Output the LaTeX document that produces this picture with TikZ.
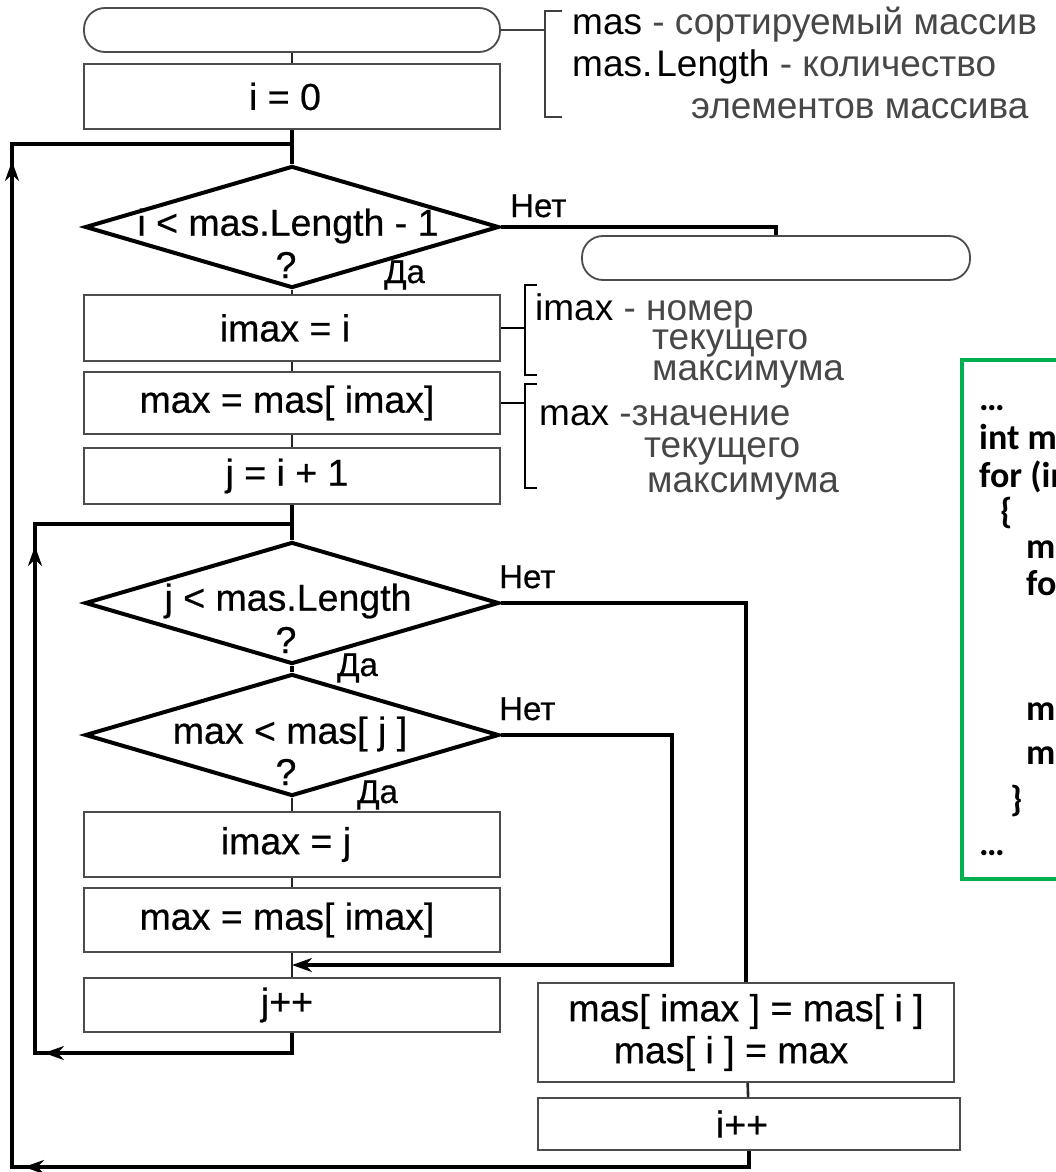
\documentclass[tikz,border=0pt]{standalone}
\usepackage{fontspec}
\setmainfont{Liberation Sans}
\newfontfamily\heavy{Liberation Sans}[FakeBold=0.5]
\newfontfamily\codefont{Carlito}
\usetikzlibrary{shapes.geometric,arrows.meta,decorations.markings,calc}
\definecolor{codegreen}{RGB}{0,176,80}
\begin{document}
\begin{tikzpicture}[x=1pt,y=-1pt,
  box/.style={draw=black!70, line width=2pt, rectangle, minimum width=416pt, inner sep=0pt, align=center, font=\heavy\fontsize{37.5}{42}\selectfont},
  term/.style={draw=black!70, line width=1.8pt, rectangle, rounded corners=21pt, minimum height=44pt, inner sep=0pt},
  dec/.style={draw=black, line width=4pt, diamond, minimum width=414pt, minimum height=122pt, inner sep=0pt},
  dtxt/.style={font=\heavy\fontsize{37.5}{42}\selectfont, inner sep=0pt},
  flow/.style={draw=black, line width=4pt},
  thinline/.style={draw=black!85, line width=2.6pt},
  brk/.style={draw=black, line width=2.8pt},
  brkthin/.style={draw=black!75, line width=2pt},
  ann/.style={font=\fontsize{37}{42}\selectfont, anchor=base west, inner sep=0pt, text=black!72},
  yn/.style={font=\heavy\fontsize{33}{36}\selectfont, anchor=base west, inner sep=0pt},
  code/.style={font=\codefont\bfseries\fontsize{36}{40}\selectfont, anchor=base west, inner sep=0pt},
  tipmark/.style 2 args={postaction={decorate}, decoration={markings,
      mark=at position #1 with {\arrow{Stealth[length=20pt,width=14pt]}},
      mark=at position #2 with {\arrow{Stealth[length=20pt,width=14pt]}}}},
  endtip/.style={-{Stealth[length=20pt,width=14pt]}}
]
\useasboundingbox (0,0) rectangle (1056,1172);
\fill[white] (0,0) rectangle (1056,1172);
\clip (0,0) rectangle (1056,1172);

% ---------- left column ----------
\node[term, minimum width=416pt] (t1) at (292,30) {};
\node[box, minimum height=65pt] (b0) at (292,96.5) {i = 0\hspace*{14pt}};
\node[dec] (d1) at (292,227) {};
\node[dtxt] (d1t) at (288,226) {i < mas.Length - 1};
\node[dtxt] (d1q) at (286,265) {?};
\node[box, minimum height=66pt] (b1) at (292,328) {imax = i\hspace*{14pt}};
\node[box, minimum height=62pt] (b2) at (292,403) {max = mas[ imax]\hspace*{10pt}};
\node[box, minimum height=56pt] (b3) at (292,476) {j = i + 1\hspace*{10pt}};
\node[dec] (d2) at (292,603) {};
\node[dtxt] (d2t) at (288,601) {j < mas.Length};
\node[dtxt] (d2q) at (286,640) {?};
\node[dec] (d3) at (292,735) {};
\node[dtxt] (d3t) at (290,734) {max < mas[ j ]};
\node[dtxt] (d3q) at (286,772) {?};
\node[box, minimum height=65pt] (b4) at (292,844.5) {imax = j\hspace*{12pt}};
\node[box, minimum height=64pt] (b5) at (292,920) {max = mas[ imax]\hspace*{10pt}};
\node[box, minimum height=54pt] (b6) at (292,1005) {j++\hspace*{10pt}};

% ---------- right column ----------
\node[term, minimum width=388pt] (t2) at (776,258) {};
\node[box, minimum width=416pt, minimum height=99pt] (b7) at (746,1032.5) {mas[ imax ] = mas[ i ]\\mas[ i ] = max\hspace*{30pt}};
\node[box, minimum width=422pt, minimum height=52pt] (b8) at (749,1124) {i++\hspace*{14pt}};

% ---------- labels ----------
\node[yn] (n1) at (510,217) {Нет};
\node[yn] (y1) at (384,283) {Да};
\node[yn] (n2) at (499,588) {Нет};
\node[yn] (y2) at (337,676) {Да};
\node[yn] (n3) at (499,720) {Нет};
\node[yn] (y3) at (357,803) {Да};

% ---------- coordinates ----------
\coordinate (l1r) at (292,144);
\coordinate (l1l) at (12,144);
\coordinate (botl) at (12,1167);
\coordinate (botr) at (749,1167);
\coordinate (l2r) at (292,524);
\coordinate (l2l) at (35,524);
\coordinate (l2bl) at (35,1053);
\coordinate (l2br) at (292,1053);
\coordinate (m3) at (672,965);
\coordinate (merge) at (292,965);

% ---------- connectors ----------
\draw[thinline] (t1) -- (b0);
\draw[flow] (b0) -- (d1);
\draw[thinline] (d1) -- (b1);
\draw[thinline] (b1) -- (b2);
\draw[thinline] (b2) -- (b3);
\draw[flow] (b3) -- (d2);
\draw[flow] (d2) -- (d3);
\draw[thinline] (d3) -- (b4);
\draw[thinline] (b4) -- (b5);
\draw[thinline] (b5) -- (b6);
\draw[thinline] (b7) -- (b8);
\draw[flow] (d1.east) -| (t2.north);
\draw[flow] (d2.east) -| (b7.north);
\draw[flow, endtip] (d3.east) -| (m3) -- (merge);
\draw[flow, tipmark={268pt}{784pt}] (b6.south) -- (l2br) -- (l2bl) -- (l2l) -- (l2r);
\draw[flow, tipmark={741pt}{1759pt}] (b8.south) -- (botr) -- (botl) -- (l1l) -- (l1r);

% ---------- annotations ----------
\coordinate (a1) at (545,30);
\draw[brkthin] (t1.east) -- (a1);
\draw[brkthin] (562,11) -- (545,11) -- (545,117) -- (562,117);
\node[ann] (a1r1) at (572,35) {\textcolor{black}{mas} - сортируемый массив};
\node[ann] (a1r2) at (572,77) {\textcolor{black}{mas.\kern4pt Length} - количество};
\node[ann] (a1r3) at (691,118) {элементов массива};

\coordinate (a2) at (525,328);
\draw[brk] (b1.east) -- (a2);
\draw[brk] (537,285) -- (525,285) -- (525,375) -- (537,375);
\node[ann] (a2r1) at (535,320) {\textcolor{black}{imax} - номер};
\node[ann] (a2r2) at (652,349) {текущего};
\node[ann] (a2r3) at (652,380) {максимума};

\coordinate (a3) at (525,403);
\draw[brk] (b2.east) -- (a3);
\draw[brk] (537,384) -- (525,384) -- (525,488) -- (537,488);
\node[ann] (a3r1) at (539,425) {\textcolor{black}{max} -значение};
\node[ann] (a3r2) at (644,457) {текущего};
\node[ann] (a3r3) at (647,492) {максимума};

% ---------- code box ----------
\draw[codegreen, line width=4pt] (962,360) rectangle (1090,879);
\node[code] (c0) at (979,410) {…};
\node[code] (c1) at (979,449) {int max, imax;};
\node[code] (c2) at (979,487) {for (int i = 0; i < mas.Length - 1; i++)};
\node[code] (c3) at (1000,523) {\{};
\node[code] (c4) at (1026,558) {max = mas[imax = i];};
\node[code] (c5) at (1026,595) {for (int j = i + 1; j < mas.Length; j++)};
\node[code] (c7) at (1026,720) {mas[imax] = mas[i];};
\node[code] (c8) at (1026,764) {mas[i] = max;};
\node[code] (c9) at (1010,811) {\}};
\node[code] (c10) at (979,855) {…};
\end{tikzpicture}
\end{document}
